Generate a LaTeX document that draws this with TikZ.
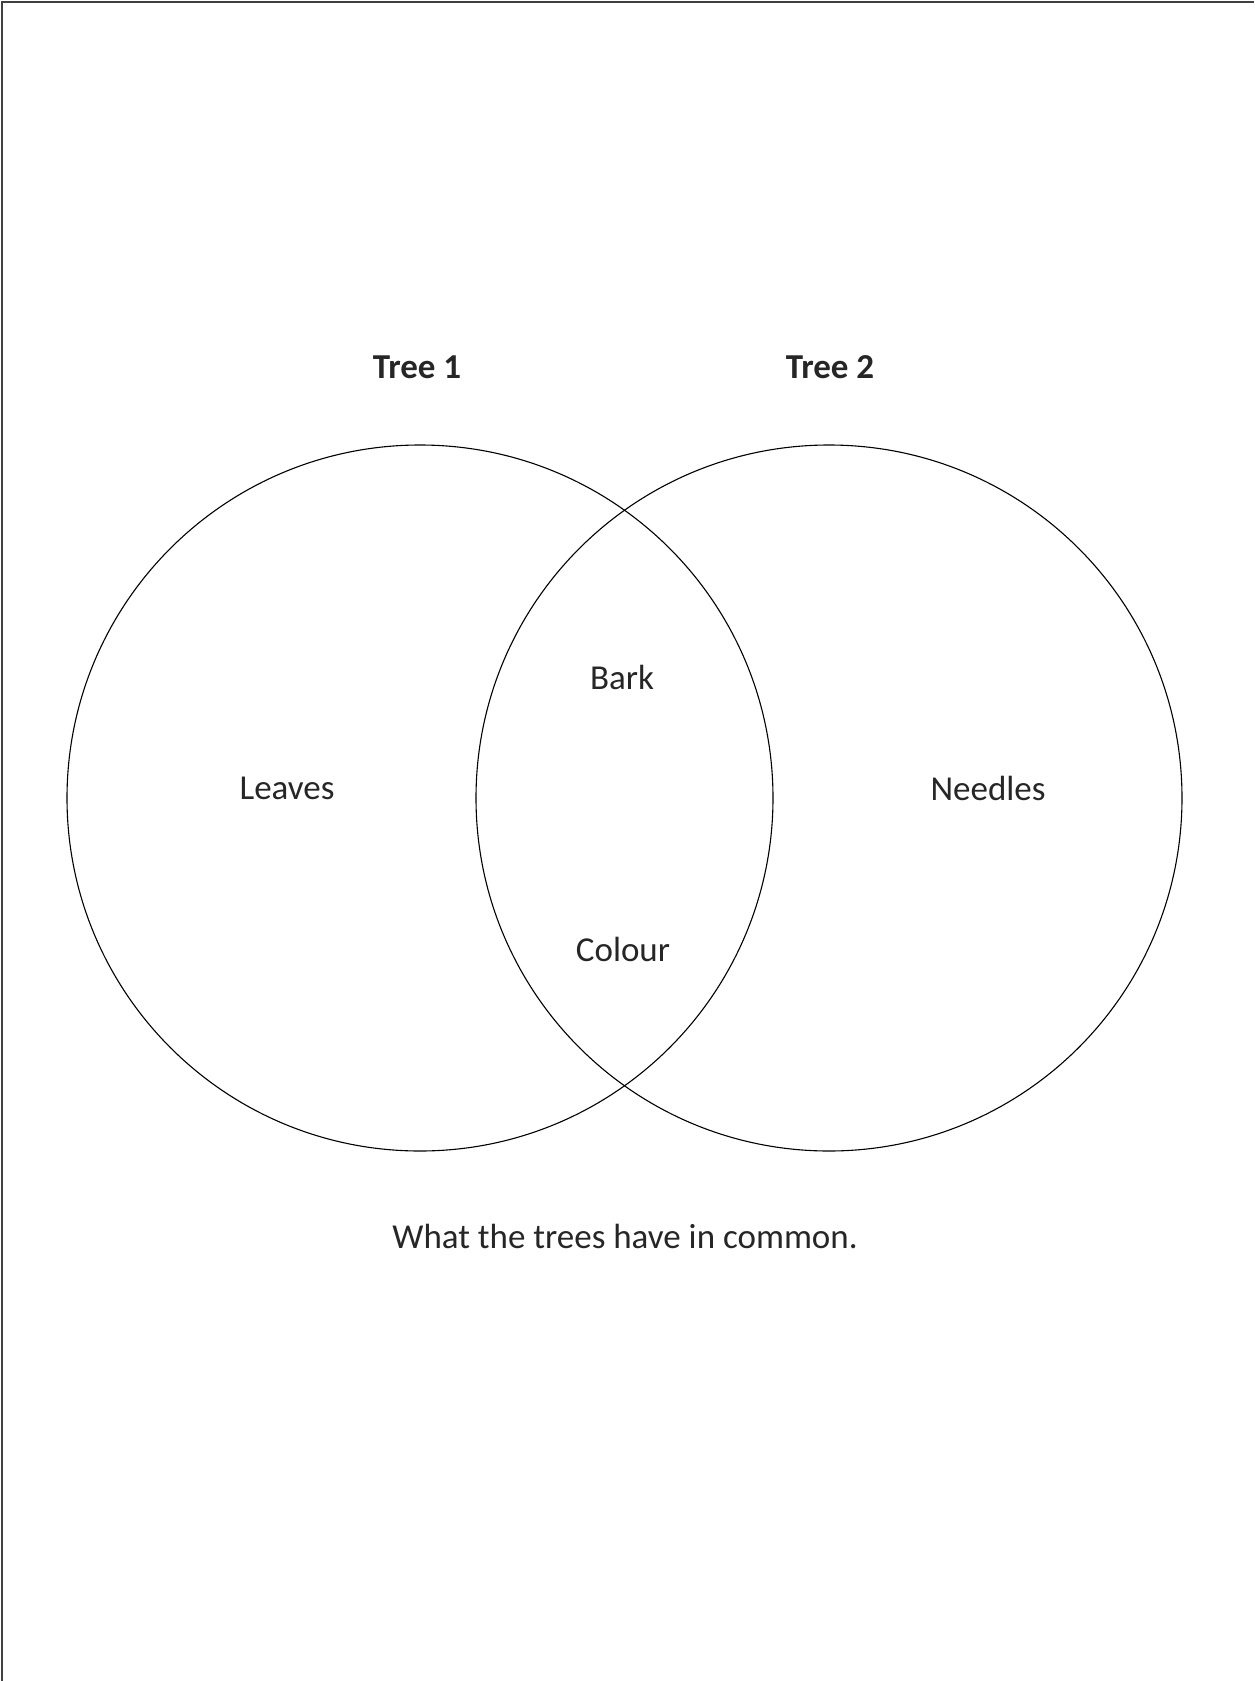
\documentclass[tikz,border=0pt]{standalone}
\usepackage{fontspec}
\setmainfont{Carlito}
\usepackage{tikz}
\usetikzlibrary{positioning}

\begin{document}
\begin{tikzpicture}[
    x=1pt, y=-1pt,
    set/.style={circle, draw, line width=1.1pt, minimum size=706pt, inner sep=0pt},
    title/.style={font=\fontsize{35}{42}\selectfont\bfseries, text=black!85},
    item/.style={font=\fontsize{35}{42}\selectfont, text=black!85},
  ]
  \useasboundingbox (0,0) rectangle (1254,1681);
  \draw[line width=2pt, black!75] (2,1681) -- (2,2) -- (1254,2);

  \node[set] (tree1) at (420,798) {};
  \node[set] (tree2) at (829,798) {};

  \node[title] (name1) at (417,367) {Tree 1};
  \node[title] (name2) at (830,367) {Tree 2};

  \node[item] (leaves) at (287,788) {Leaves};
  \node[item] (needles) at (988,788) {Needles};
  \node[item] (bark) at (622,677) {Bark};
  \node[item] (colour) at (623,949) {Colour};

  \node[item] (common) at (625,1236) {What the trees have in common.};
\end{tikzpicture}
\end{document}
